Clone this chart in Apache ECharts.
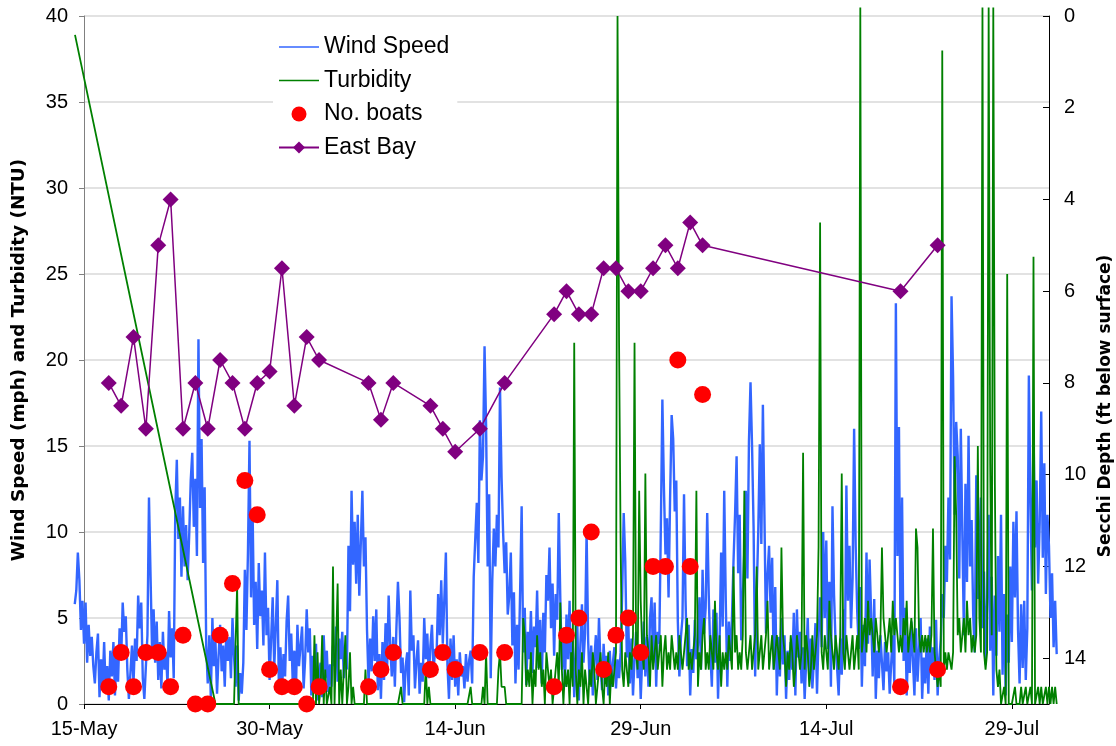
<!DOCTYPE html>
<html>
<head>
<meta charset="utf-8">
<script src="https://cdn.jsdelivr.net/npm/echarts@6/dist/echarts.min.js"></script>
<style>
  html, body { margin: 0; padding: 0; background: #ffffff; }
  #chart { width: 1116px; height: 746px; }
</style>
</head>
<body>
<div id="chart"></div>
<script>
// x values are days counted from 15-May (day 0)
const tickDays = [0, 15, 30, 45, 60, 75];
const tickLabels = ['15-May', '30-May', '14-Jun', '29-Jun', '14-Jul', '29-Jul'];
const axisEndDay = 78; // 1-Aug, where the Secchi axis stands

// Wind speed (mph), one reading every 3 hours starting at day -0.75
const windStart = -0.75;
const windStep = 0.125;
const windSpeed = [
  5.8, 6.6, 8.8, 7.2, 4.3, 6.0,
  3.5, 5.9, 2.4, 4.6, 2.8, 3.9, 2.2, 1.2,
  3.0, 4.1, 0.4, 2.6, 1.0, 3.6, 0.8, 2.2,
  0.2, 3.1, 1.6, 3.6, 0.5, 2.9, 1.3, 4.4,
  2.6, 5.9, 4.2, 5.1, 2.0, 0.3, 1.8, 3.4,
  1.2, 3.8, 2.5, 6.3, 4.4, 5.9, 1.5, 0.3,
  2.2, 4.0, 12.0, 7.5, 3.1, 5.5, 2.4, 4.8,
  1.4, 3.6, 0.9, 4.2, 2.0, 3.0, 1.1, 5.4,
  2.7, 4.4, 1.5, 11.2, 14.2, 9.6, 12.0, 7.4,
  11.5, 8.0, 10.4, 7.2, 9.8, 13.0, 14.6, 10.3,
  13.1, 8.6, 21.2, 11.4, 15.4, 8.2, 12.6, 3.4,
  1.2, 4.0, 0.3, 5.0, 2.2, 3.6, 0.6, 2.8,
  4.6, 1.9, 3.4, 1.0, 4.2, 2.5, 3.9, 1.5,
  5.0, 2.8, 1.0, 3.4, 0.2, 1.8, 0.6, 2.4,
  7.8, 4.3, 8.8, 15.3, 6.2, 11.3, 4.6, 7.1,
  3.2, 8.2, 5.1, 6.6, 3.4, 8.8, 4.0, 5.6,
  1.4, 3.8, 6.2, 2.1, 4.5, 7.2, 1.0, 3.3,
  0.6, 2.9, 1.6, 4.8, 6.3, 2.5, 4.1, 1.2,
  3.1, 0.7, 4.6, 2.2, 3.4, 4.5, 0.9, 2.6,
  5.5, 3.0, 4.4, 0.5, 2.8, 1.2, 3.5, 0.2,
  1.9, 2.4, 0.4, 4.0, 1.5, 3.1, 0.7, 2.3,
  1.0, 3.4, 2.2, 4.5, 1.3, 3.8, 2.6, 4.2,
  1.5, 3.0, 2.0, 9.2, 5.4, 12.4, 8.1, 10.6,
  7.0, 11.0, 6.3, 9.4, 12.4, 8.0, 9.7, 4.3,
  1.2, 3.8, 1.9, 5.1, 2.5, 5.5, 0.8, 2.9,
  0.3, 3.6, 1.4, 4.7, 2.1, 6.3, 3.5, 1.6,
  3.9, 1.0, 4.4, 7.1, 5.0, 1.8, 2.7, 0.1,
  2.2, 3.0, 0.5, 6.6, 3.1, 4.0, 0.9, 2.5,
  3.7, 0.6, 2.4, 1.3, 5.0, 2.6, 4.1, 1.5,
  3.4, 4.6, 1.8, 3.2, 2.9, 6.4, 4.0, 7.2,
  3.5, 6.1, 8.8, 2.3, 0.3, 3.8, 1.4, 4.0,
  1.0, 2.6, 0.5, 3.0, 1.6, 2.2, 0.9, 2.9,
  1.3, 2.5, 3.1, 1.2, 7.4, 9.6, 11.7, 8.2,
  16.5, 13.0, 14.4, 20.8, 16.2, 8.0, 12.2, 1.5,
  7.2, 10.2, 8.0, 11.0, 9.1, 18.4, 13.2, 10.0,
  7.6, 9.4, 5.2, 6.3, 8.8, 3.4, 6.5, 1.2,
  4.6, 2.0, 6.5, 11.5, 3.0, 5.6, 1.1, 4.2,
  2.6, 5.4, 1.8, 4.5, 3.3, 6.6, 2.1, 4.9,
  1.2, 5.3, 3.0, 7.5, 6.0, 9.1, 4.4, 7.0,
  2.8, 6.4, 4.9, 11.1, 6.1, 2.0, 4.3, 1.0,
  5.2, 2.6, 6.0, 1.5, 3.8, 0.4, 2.9, 4.6,
  0.2, 3.5, 5.8, 2.4, 4.1, 10.0, 3.7, 1.1,
  3.4, 0.5, 2.6, 4.0, 1.4, 5.0, 2.2, 0.8,
  3.5, 1.7, 2.8, 0.5, 3.1, 1.0, 2.4, 3.3,
  0.9, 2.6, 1.5, 3.0, 6.4, 11.1, 8.3, 2.7,
  4.6, 1.2, 3.8, 0.5, 2.6, 4.2, 1.5, 3.3,
  0.3, 2.8, 4.8, 1.6, 3.9, 1.0, 5.0, 6.2,
  2.4, 5.9, 1.0, 4.2, 3.5, 10.2, 17.7, 12.6,
  8.7, 10.8, 6.2, 12.0, 16.8, 15.4, 11.2, 13.0,
  4.8, 1.6, 3.9, 5.0, 12.2, 6.0, 2.2, 4.6,
  0.5, 3.2, 1.8, 4.9, 2.6, 3.4, 6.2, 2.0,
  7.8, 4.1, 5.6, 11.1, 6.3, 3.0, 1.0, 5.5,
  2.4, 5.3, 0.3, 3.6, 8.8, 4.5, 12.4, 6.0,
  1.0, 4.8, 2.5, 5.0, 8.3, 11.0, 14.4, 7.6,
  11.0, 3.7, 6.1, 8.9, 12.4, 7.3, 15.3, 18.7,
  15.0, 10.2, 1.6, 6.4, 10.0, 15.1, 9.3, 17.4,
  11.0, 4.1, 7.5, 9.2, 5.3, 8.5, 2.0, 6.8,
  0.5, 3.9, 1.6, 5.0, 2.3, 4.0, 0.3, 3.1,
  1.4, 3.6, 2.0, 5.3, 0.5, 5.5, 2.7, 4.2,
  1.2, 3.3, 0.3, 2.5, 5.0, 1.5, 3.8, 0.9,
  2.6, 4.7, 0.6, 4.0, 6.2, 3.3, 10.0, 5.0,
  9.5, 3.2, 7.1, 1.0, 11.5, 6.4, 3.6, 2.1,
  0.5, 3.8, 1.7, 5.5, 2.6, 12.7, 6.0, 9.2,
  4.4, 7.3, 16.0, 9.2, 5.4, 3.2, 6.8, 1.0,
  4.6, 2.2, 8.8, 3.5, 8.4, 5.2, 1.6, 6.1,
  0.3, 3.1, 1.5, 4.0, 2.4, 0.8, 3.6, 1.9,
  3.0, 0.6, 2.4, 4.0, 1.2, 23.3, 8.6, 16.1,
  4.0, 12.0, 2.5, 5.6, 0.5, 3.7, 1.8, 4.8,
  2.6, 0.5, 4.4, 1.3, 3.2, 5.0, 0.3, 2.7,
  1.2, 3.8, 0.6, 4.5, 2.0, 3.3, 1.4, 4.9,
  0.5, 2.6, 3.7, 6.4, 5.0, 9.2, 7.1, 12.0,
  8.4, 23.7, 19.0, 11.0, 16.4, 14.4, 7.3, 16.0,
  9.8, 4.0, 12.8, 7.1, 15.6, 8.0, 10.7, 5.2,
  3.0, 13.3, 6.1, 9.0, 12.0, 4.4, 7.7, 2.3,
  5.9, 11.0, 3.1, 7.4, 0.5, 6.3, 2.8, 8.6,
  4.2, 11.0, 1.7, 6.4, 0.5, 5.2, 2.4, 8.0,
  3.6, 10.6, 6.2, 11.2, 4.3, 1.2, 5.8, 2.1,
  6.0, 1.4, 4.4, 19.1, 12.0, 6.6, 16.0, 9.1,
  13.0, 7.0, 10.5, 17.0, 8.5, 14.0, 6.4, 11.0,
  9.2, 5.0, 7.6, 3.3, 6.0, 2.9
];

// Turbidity (NTU): an early reading, then one reading every 3 hours from day 10.625
const turbidityFirstDay = -0.73;
const turbidityFirstValue = 38.9;
const turbidityStart = 10.625;
const turbidityStep = 0.125;
const turbidity = [
  0, 0, 0,
  0, 0, 0, 0, 0, 0, 0, 0,
  0, 0, 0, 6.9, 0, 0, 0, 0,
  0, 0, 0, 0, 0, 0, 0, 0,
  0, 0, 0, 0, 0, 0, 0, 0,
  0, 0, 0, 0, 0, 0, 0, 0,
  0, 0, 0, 0, 0, 0, 0, 0,
  0, 0, 0, 0, 0, 0, 0, 0,
  0, 0, 0, 0, 0, 4, 0, 3,
  0, 1, 4, 0, 2, 0, 0, 1,
  0, 8, 0, 0, 7, 0, 2, 0,
  0, 4, 0, 1, 3, 0, 1, 0,
  0, 0, 0, 0, 0, 0, 2, 0,
  0, 0, 0, 0, 0, 0, 0, 0,
  0, 0, 0, 0, 0, 0, 0, 0,
  0, 0, 0, 0, 0, 1, 0, 0,
  0, 0, 0, 0, 0, 0, 0, 0,
  0, 0, 0, 0, 0, 2.2, 0, 1,
  0, 0, 0, 0, 0, 0, 0, 0,
  0, 0, 0, 0, 0, 0, 0, 0,
  0, 0, 0, 0, 0, 0, 0, 0,
  0, 0, 1, 0, 0, 0, 0, 0,
  0, 0, 1, 0, 3, 0, 0, 0,
  0, 0, 0, 0, 2, 3, 1, 1,
  1, 0, 0, 0, 0, 0, 0, 0,
  0, 0, 0, 0, 5, 4, 1, 2,
  1, 3, 0, 2, 1, 4, 2, 3,
  1, 2, 0, 3, 2, 1, 2, 0,
  1, 2, 3, 1, 5.9, 2, 0, 2,
  1, 2, 0, 3, 1, 21, 2, 0,
  2, 1, 3, 0, 2, 1, 0, 2,
  1, 3, 2, 0, 1, 2, 3, 1,
  0, 2, 1, 3, 0, 2, 1, 2,
  3, 40, 21, 9.3, 2, 1, 3, 2,
  1, 3, 2, 4, 21, 3, 2, 12.4,
  6, 3, 2, 13.4, 4, 3, 1, 4,
  2, 3, 4, 2, 3, 4, 1, 3,
  4, 2, 3, 2, 4, 3, 2, 3,
  2, 4, 3, 2, 3, 3, 5, 2,
  3, 2, 3, 4, 12.4, 1, 3, 2,
  4, 5, 2, 3, 2, 4, 3, 2,
  6, 3, 2, 4, 1, 3, 2, 3,
  2, 4, 3, 2, 8, 3, 4, 2,
  3, 2, 4, 12.4, 3, 2, 3, 4,
  2, 3, 4, 8, 2, 3, 4, 2,
  3, 4, 6, 2, 3, 4, 2, 3,
  4, 3, 2, 9.1, 4, 3, 1, 3,
  2, 4, 3, 1, 2, 4, 3, 2,
  3, 14.6, 2, 4, 3, 1, 2, 4,
  2, 3, 4, 9.1, 28, 3, 2, 4,
  3, 2, 6, 4, 3, 2, 4, 3,
  2, 4, 13.4, 3, 2, 4, 3, 2,
  3, 4, 2, 3, 4, 2, 40.5, 3,
  4, 5, 3, 6, 4, 5, 4, 3,
  5, 4, 3, 4, 9.1, 5, 4, 3,
  4, 5, 3, 6, 4, 5, 4, 3,
  4, 3, 5, 4, 6, 3, 4, 5,
  4, 3, 10.2, 9.1, 4, 3, 4, 3,
  4, 3, 4, 3, 4, 10.2, 3, 2,
  1, 2, 1, 38, 2, 3, 2, 3,
  3, 2, 3, 14.4, 11, 4, 5, 3,
  4, 5, 3, 6, 4, 5, 3, 4,
  3, 4, 15, 5, 3, 40.5, 3, 2,
  3, 40.5, 14, 4, 40.5, 13, 2, 1,
  2, 0, 0, 1, 0, 25, 0, 0,
  0, 0, 1, 0, 0, 0, 1, 0,
  0, 1, 0, 0, 1, 0, 26, 0,
  0, 1, 0, 1, 0, 0, 1, 0,
  1, 0, 1, 0, 1, 0
];

// Field survey days: boat counts and East Bay Secchi depth (ft)
const surveyDays = [2, 3, 4, 5, 6, 7, 8, 9, 10, 11, 12, 13, 14, 15, 16, 17, 18, 19,
  23, 24, 25, 28, 29, 30, 32, 34, 38, 39, 40, 41, 42, 43, 44, 45, 46, 47, 48, 49, 50, 66, 69];
const boats = [1, 3, 1, 3, 3, 1, 4, 0, 0, 4, 7, 13, 11, 2, 1, 1, 0, 1,
  1, 2, 3, 2, 3, 2, 3, 3, 1, 4, 5, 10, 2, 4, 5, 3, 8, 8, 20, 8, 18, 1, 2];
const eastBay = [8.0, 8.5, 7.0, 9.0, 5.0, 4.0, 9.0, 8.0, 9.0, 7.5, 8.0, 9.0, 8.0, 7.75, 5.5, 8.5, 7.0, 7.5,
  8.0, 8.8, 8.0, 8.5, 9.0, 9.5, 9.0, 8.0, 6.5, 6.0, 6.5, 6.5, 5.5, 5.5, 6.0, 6.0, 5.5, 5.0, 5.5, 4.5, 5.0, 6.0, 5.0];

const windData = windSpeed.map((v, i) => [windStart + i * windStep, v]);
const turbidityData = [[turbidityFirstDay, turbidityFirstValue]].concat(
  turbidity.map((v, i) => [turbidityStart + i * turbidityStep, v]));
const boatData = surveyDays.map((d, i) => [d, boats[i]]);
const eastBayData = surveyDays.map((d, i) => [d, eastBay[i]]);

const sans = '"Liberation Sans", Arial, sans-serif';
const boldTitle = { fontFamily: '"DejaVu Sans", sans-serif', fontWeight: 'bold', color: '#000000' };
const chart = echarts.init(document.getElementById('chart'), null, { renderer: 'canvas' });

chart.setOption({
  animation: false,
  backgroundColor: '#ffffff',
  grid: [
    // plotting area: runs a little past the first and last day,
    // both value axes are shifted in to sit on 15-May and 1-Aug
    { left: 75, right: 59, top: 16, bottom: 42, containLabel: false, outerBoundsMode: 'none' },
    // backdrop between the two value axes: gridlines and the date axis line
    { left: 84, right: 67, top: 16, bottom: 42, containLabel: false, outerBoundsMode: 'none' }
  ],
  legend: {
    orient: 'vertical',
    left: 273,
    top: 29,
    padding: [5, 8, 5, 5],
    itemGap: 7.5,
    itemWidth: 40,
    itemHeight: 15,
    backgroundColor: '#ffffff',
    selectedMode: false,
    textStyle: { fontFamily: sans, fontSize: 23, color: '#000000', lineHeight: 26 },
    data: [
      { name: 'Wind Speed', itemStyle: { opacity: 0 }, lineStyle: { width: 1.5 } },
      { name: 'Turbidity', itemStyle: { opacity: 0 }, lineStyle: { width: 1.5 } },
      { name: 'No. boats' },
      { name: 'East Bay' }
    ]
  },
  xAxis: [
    {
      type: 'value',
      gridIndex: 0,
      min: -0.73,
      max: 78.65,
      axisLine: { show: false },
      axisTick: { show: true, length: 5, customValues: tickDays, lineStyle: { color: '#000000' } },
      splitLine: { show: false },
      axisLabel: {
        fontFamily: sans, fontSize: 20, color: '#000000', margin: 15,
        customValues: tickDays,
        formatter: v => {
          const k = tickDays.indexOf(v);
          return k >= 0 ? tickLabels[k] : '';
        }
      }
    },
    {
      type: 'value',
      gridIndex: 1,
      min: 0,
      max: axisEndDay,
      axisLine: { show: true, onZero: false, lineStyle: { color: '#000000', width: 1 } },
      axisTick: { show: false },
      axisLabel: { show: false },
      splitLine: { show: false }
    }
  ],
  yAxis: [
    {
      type: 'value',
      gridIndex: 0,
      position: 'left',
      offset: -9,
      min: 0,
      max: 40,
      interval: 5,
      name: 'Wind Speed (mph) and Turbidity (NTU)',
      nameLocation: 'middle',
      nameRotate: 90,
      nameGap: 56,
      nameTextStyle: Object.assign({ fontSize: 18.4 }, boldTitle),
      axisLine: { show: true, onZero: false, lineStyle: { color: '#808080', width: 1 } },
      axisTick: { show: true, length: 5, lineStyle: { color: '#808080' } },
      axisLabel: { fontFamily: sans, fontSize: 20, color: '#000000', margin: 16 },
      splitLine: { show: false }
    },
    {
      type: 'value',
      gridIndex: 0,
      position: 'right',
      offset: -8,
      min: 0,
      max: 15,
      interval: 2,
      inverse: true,
      name: 'Secchi Depth (ft below surface)',
      nameLocation: 'middle',
      nameRotate: 90,
      nameGap: 45,
      nameTextStyle: Object.assign({ fontSize: 17, padding: [0, 92, 0, 0] }, boldTitle),
      axisLine: { show: true, onZero: false, lineStyle: { color: '#000000', width: 1 } },
      axisTick: { show: true, inside: true, length: 6, lineStyle: { color: '#000000' } },
      axisLabel: { fontFamily: sans, fontSize: 20, color: '#000000', margin: 15, showMaxLabel: false },
      splitLine: { show: false }
    },
    {
      type: 'value',
      gridIndex: 1,
      position: 'left',
      min: 0,
      max: 40,
      interval: 5,
      axisLine: { show: false },
      axisTick: { show: false },
      axisLabel: { show: false },
      splitLine: { show: true, lineStyle: { color: '#d9d9d9', width: 1.5 } }
    }
  ],
  series: [
    {
      name: 'Wind Speed',
      type: 'line',
      xAxisIndex: 0,
      yAxisIndex: 0,
      data: windData,
      symbol: 'none',
      clip: false,
      lineStyle: { color: '#3366ff', width: 2.4 },
      itemStyle: { color: '#3366ff' },
      z: 2
    },
    {
      name: 'Turbidity',
      type: 'line',
      xAxisIndex: 0,
      yAxisIndex: 0,
      data: turbidityData,
      symbol: 'none',
      clip: false,
      lineStyle: { color: '#008000', width: 1.8 },
      itemStyle: { color: '#008000' },
      z: 3
    },
    {
      name: 'No. boats',
      type: 'scatter',
      xAxisIndex: 0,
      yAxisIndex: 0,
      data: boatData,
      symbol: 'circle',
      symbolSize: 17,
      clip: false,
      itemStyle: { color: '#ff0000', opacity: 1 },
      z: 4
    },
    {
      name: 'East Bay',
      type: 'line',
      xAxisIndex: 0,
      yAxisIndex: 1,
      data: eastBayData,
      symbol: 'diamond',
      symbolSize: 16,
      showAllSymbol: true,
      clip: false,
      lineStyle: { color: '#800080', width: 1.5 },
      itemStyle: { color: '#800080' },
      z: 5
    }
  ]
});
</script>
</body>
</html>
